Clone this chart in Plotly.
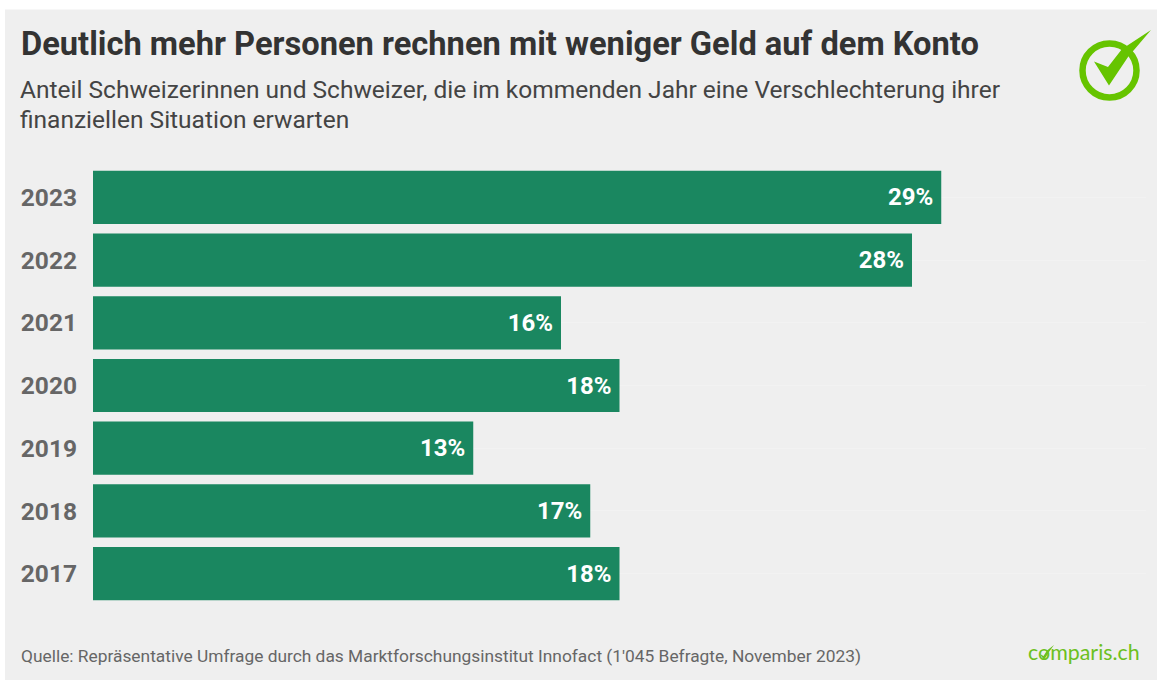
import plotly.graph_objects as go

years = ["2023", "2022", "2021", "2020", "2019", "2018", "2017"]
values = [29, 28, 16, 18, 13, 17, 18]
title = "Deutlich mehr Personen rechnen mit weniger Geld auf dem Konto"
subtitle_lines = [
    "Anteil Schweizerinnen und Schweizer, die im kommenden Jahr eine Verschlechterung ihrer",
    "finanziellen Situation erwarten",
]
source = "Quelle: Repräsentative Umfrage durch das Marktforschungsinstitut Innofact (1'045 Befragte, November 2023)"
brand = "comparis.ch"

W, H = 1157, 680
L, R, T, B = 93, 1146, 166, 605
GREEN = "#1a8760"
LIME = "#66c400"
GRAY = "#666666"
DARK = "#333333"
BG = "#efefef"


def px(x):
    return (x - L) / (R - L)


def py(y):
    return 1 - (y - T) / (B - T)


def label(x, y, text, size, color, bold=False, anchor="left", family="Roboto"):
    return dict(
        x=px(x), y=py(y), xref="paper", yref="paper", text=f"<b>{text}</b>" if bold else text,
        showarrow=False, xanchor=anchor, yanchor="middle", align="left",
        font=dict(family=family, size=size, color=color), borderpad=0, borderwidth=0,
    )


def pathstr(pts):
    return "M " + " L ".join(f"{px(a):.5f} {py(b):.5f}" for a, b in pts) + " Z"


fig = go.Figure(
    go.Bar(
        y=years, x=values, orientation="h",
        marker=dict(color=GREEN, line=dict(width=0)),
        text=[f"{v}%\u2009" for v in values],
        textposition="inside", insidetextanchor="end", textangle=0,
        insidetextfont=dict(family="Roboto", size=24, color="white", weight="bold"),
        hoverinfo="skip",
    )
)

shapes = [
    dict(type="rect", xref="paper", yref="paper", x0=px(5), x1=px(W), y0=py(9.5), y1=py(680),
         fillcolor=BG, line=dict(width=0), layer="below"),
    dict(type="circle", xref="paper", yref="paper", x0=px(1082.5), x1=px(1136.5), y0=py(97.5), y1=py(43.5),
         line=dict(color=LIME, width=6.5), fillcolor="rgba(0,0,0,0)"),
    dict(type="path", xref="paper", yref="paper", fillcolor=LIME, line=dict(width=0),
         path=pathstr([(1094, 61.5), (1108, 67), (1122, 49), (1151, 30), (1128, 57), (1109, 85.5)])),
    dict(type="path", xref="paper", yref="paper", fillcolor="#6cc020", line=dict(width=0),
         path=pathstr([(1040, 654), (1043.5, 656), (1047, 650.5), (1054, 645), (1049, 652), (1044, 660)])),
]

annotations = [
    label(21, 43.5, title, 32.65, DARK, bold=True),
    label(20, 89, subtitle_lines[0], 24.5, "#444444"),
    label(20, 119, subtitle_lines[1], 24.5, "#444444"),
    label(21, 655.5, source, 17.35, GRAY),
    label(1028, 652, brand, 21.4, "#6cc020", family="Lato"),
]

fig.update_layout(
    width=W, height=H, margin=dict(l=L, r=W - R, t=T, b=H - B, pad=0),
    paper_bgcolor="white", plot_bgcolor=BG, showlegend=False, bargap=0.152,
    shapes=shapes, annotations=annotations,
    xaxis=dict(range=[0, 36], visible=False, fixedrange=True),
    yaxis=dict(
        type="category", autorange="reversed", showline=False, ticks="", ticklabelstandoff=15,
        tickfont=dict(family="Roboto", size=24.5, color=GRAY, weight="bold"),
        showgrid=True, gridcolor="#f2f2f2", gridwidth=1, zeroline=False, fixedrange=True,
    ),
)

fig.write_html("out.html", config={"displayModeBar": False},
               post_script="document.body.style.margin='0';")
